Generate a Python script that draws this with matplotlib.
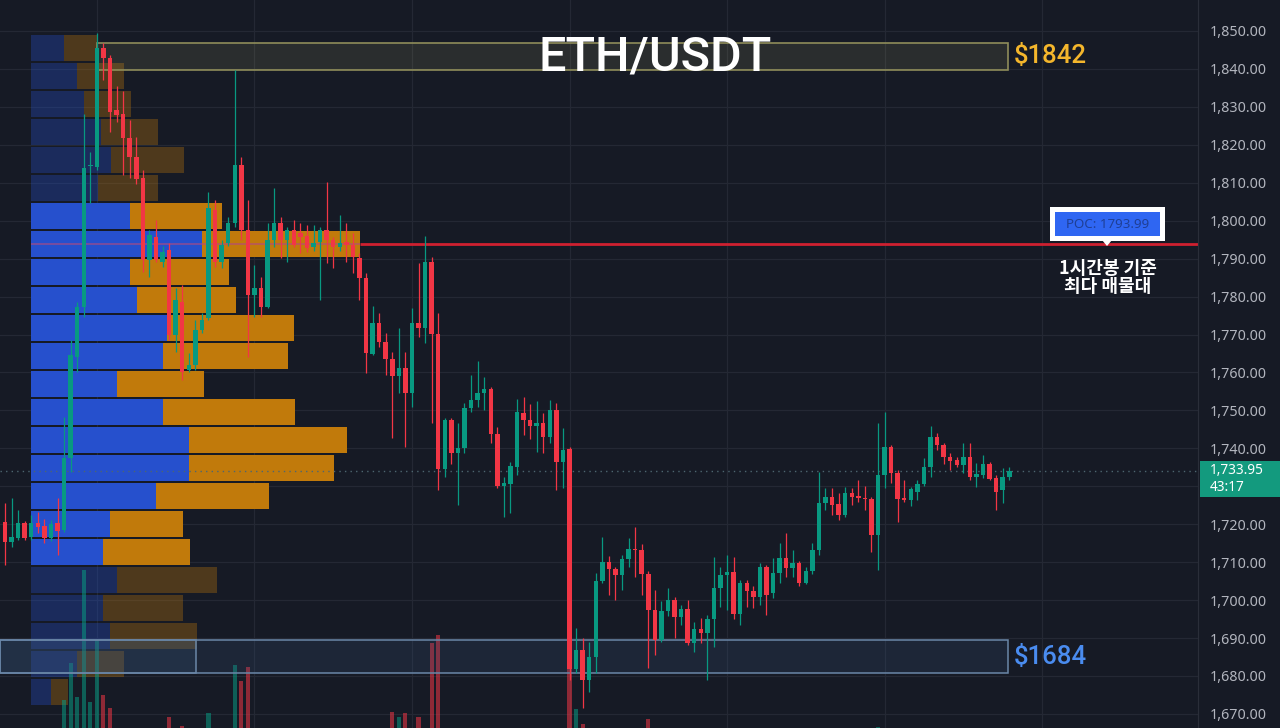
import numpy as np
import matplotlib
matplotlib.use("Agg")
import matplotlib.pyplot as plt
from matplotlib.patches import Rectangle, Polygon

plt.rcParams['font.family'] = ['Noto Sans CJK KR', 'DejaVu Sans']

# ---------------- data (1h ETH/USDT candles) ----------------
opens = [
 1720.7, 1715.4, 1716.3, 1720.2, 1716.7, 1720.4, 1719.5, 1716.3, 1720.2, 1718.5,
 1737.4, 1764.2, 1777.3, 1814.4, 1814.2, 1845.4, 1842.8, 1829.2, 1828.1, 1821.7,
 1816.9, 1811.3, 1789.6, 1795.8, 1789.2, 1792.3, 1769.9, 1778.6, 1760.6, 1762.0,
 1771.2, 1774.3, 1802.8, 1789.2, 1794.0, 1799.3, 1814.7, 1797.5, 1780.4, 1782.2,
 1777.3, 1794.9, 1799.3, 1794.9, 1797.5, 1796.7, 1796.0, 1793.1, 1794.5, 1797.5,
 1794.9, 1793.1, 1794.5, 1793.6, 1790.1, 1784.8, 1764.9, 1773.0, 1768.1, 1763.6,
 1759.1, 1761.1, 1754.7, 1773.1, 1771.8, 1789.2, 1770.1, 1734.5, 1747.5, 1738.7,
 1740.0, 1750.6, 1752.7, 1754.7, 1755.6, 1743.9, 1730.2, 1730.6, 1735.2, 1749.4,
 1747.5, 1745.9, 1746.6, 1743.1, 1750.1, 1736.5, 1739.7, 1681.8, 1686.9, 1678.9,
 1685.1, 1705.0, 1710.1, 1708.1, 1706.6, 1710.8, 1713.6, 1713.2, 1706.9, 1697.3,
 1689.4, 1697.2, 1700.0, 1695.6, 1697.6, 1688.6, 1692.3, 1691.3, 1695.0, 1703.1,
 1706.6, 1707.5, 1696.3, 1704.6, 1702.5, 1700.9, 1708.8, 1701.8, 1707.2, 1711.0,
 1708.4, 1709.7, 1704.4, 1707.7, 1713.2, 1725.7, 1727.3, 1725.3, 1722.4, 1728.1,
 1727.4, 1727.0, 1726.6, 1717.1, 1733.0, 1740.4, 1733.6, 1726.8, 1726.4, 1728.6,
 1730.6, 1735.0, 1743.1, 1740.9, 1737.6, 1736.9, 1735.6, 1737.6, 1732.5, 1733.0,
 1735.9, 1732.1, 1728.9, 1732.5]
highs = [
 1725.5, 1726.9, 1723.7, 1720.8, 1722.4, 1723.3, 1721.3, 1721.0, 1726.8, 1748.3,
 1768.6, 1778.6, 1828.1, 1818.2, 1849.6, 1846.9, 1843.7, 1835.5, 1834.3, 1826.5,
 1822.1, 1813.4, 1797.5, 1800.2, 1793.3, 1794.1, 1782.3, 1783.1, 1765.1, 1773.8,
 1775.6, 1807.6, 1805.5, 1794.9, 1801.0, 1839.7, 1816.9, 1805.5, 1788.3, 1785.2,
 1799.3, 1808.5, 1801.1, 1798.4, 1800.2, 1799.4, 1798.9, 1798.9, 1798.4, 1810.3,
 1795.8, 1801.5, 1799.3, 1796.7, 1791.4, 1786.1, 1777.5, 1775.7, 1770.5, 1765.5,
 1771.6, 1765.5, 1776.9, 1788.8, 1796.0, 1790.5, 1775.6, 1748.0, 1748.0, 1746.6,
 1752.0, 1759.3, 1762.9, 1758.9, 1756.2, 1745.7, 1732.5, 1736.5, 1752.9, 1753.6,
 1751.6, 1752.6, 1749.2, 1752.7, 1752.0, 1745.3, 1740.4, 1692.6, 1689.9, 1689.0,
 1707.1, 1716.7, 1711.6, 1708.8, 1711.9, 1716.3, 1719.3, 1714.8, 1707.8, 1702.7,
 1699.8, 1703.2, 1700.9, 1698.7, 1700.0, 1694.3, 1695.2, 1696.1, 1711.4, 1708.8,
 1711.9, 1711.4, 1705.3, 1705.3, 1703.6, 1709.7, 1709.3, 1711.0, 1715.0, 1717.6,
 1713.2, 1710.2, 1708.8, 1715.0, 1733.8, 1729.5, 1729.5, 1728.1, 1729.9, 1729.5,
 1731.7, 1730.1, 1727.3, 1746.6, 1749.7, 1740.9, 1734.3, 1731.7, 1729.9, 1731.7,
 1737.4, 1745.9, 1744.0, 1741.3, 1738.7, 1737.8, 1741.3, 1741.3, 1736.1, 1738.2,
 1736.5, 1733.0, 1734.7, 1735.2]
lows = [
 1709.3, 1714.0, 1715.8, 1715.8, 1715.8, 1717.6, 1715.0, 1715.5, 1711.9, 1718.0,
 1733.8, 1760.2, 1774.6, 1804.6, 1813.4, 1837.1, 1823.5, 1826.1, 1812.0, 1811.2,
 1809.6, 1786.6, 1785.2, 1789.1, 1787.9, 1768.6, 1765.5, 1758.0, 1760.1, 1760.6,
 1770.3, 1773.8, 1787.9, 1787.5, 1793.4, 1798.4, 1794.9, 1764.2, 1774.7, 1774.7,
 1776.9, 1793.1, 1790.1, 1789.2, 1793.1, 1791.4, 1791.8, 1792.0, 1779.1, 1788.8,
 1787.5, 1792.0, 1789.2, 1786.1, 1779.1, 1759.8, 1764.6, 1766.8, 1759.3, 1742.6,
 1754.5, 1740.4, 1751.0, 1769.4, 1767.7, 1746.6, 1729.0, 1732.5, 1736.0, 1725.1,
 1738.7, 1749.7, 1751.0, 1750.1, 1741.3, 1729.5, 1722.0, 1722.9, 1733.0, 1743.5,
 1742.4, 1739.1, 1738.7, 1741.5, 1729.0, 1729.5, 1679.0, 1680.7, 1671.5, 1675.9,
 1680.7, 1704.4, 1701.4, 1700.0, 1702.7, 1708.7, 1706.2, 1701.4, 1682.0, 1685.5,
 1689.0, 1695.8, 1689.9, 1693.4, 1688.2, 1686.4, 1688.6, 1678.9, 1687.7, 1698.3,
 1697.4, 1694.9, 1693.4, 1698.3, 1697.8, 1698.7, 1696.1, 1700.5, 1704.4, 1706.2,
 1706.2, 1703.8, 1704.2, 1706.9, 1711.9, 1723.7, 1722.4, 1721.1, 1722.0, 1725.1,
 1725.9, 1723.7, 1712.8, 1707.9, 1729.5, 1730.8, 1720.7, 1725.9, 1724.8, 1726.4,
 1730.1, 1732.5, 1739.5, 1736.0, 1734.3, 1735.2, 1733.4, 1731.7, 1729.7, 1732.1,
 1731.7, 1723.7, 1725.7, 1731.7]
closes = [
 1715.4, 1716.7, 1720.4, 1716.3, 1720.4, 1719.2, 1716.3, 1720.0, 1718.3, 1737.4,
 1764.6, 1777.3, 1813.8, 1814.6, 1845.4, 1842.8, 1828.7, 1827.9, 1821.7, 1816.7,
 1811.0, 1789.6, 1796.2, 1789.6, 1791.8, 1769.9, 1779.1, 1760.2, 1762.0, 1771.2,
 1773.8, 1803.3, 1789.2, 1793.6, 1799.3, 1814.7, 1797.5, 1780.4, 1782.2, 1777.3,
 1794.9, 1799.3, 1794.9, 1797.5, 1793.6, 1795.7, 1792.8, 1794.0, 1797.5, 1794.9,
 1793.1, 1794.0, 1793.6, 1790.5, 1784.8, 1765.0, 1773.0, 1768.1, 1763.6, 1759.1,
 1761.1, 1754.7, 1773.1, 1771.6, 1789.2, 1770.1, 1734.5, 1747.5, 1738.7, 1740.0,
 1750.6, 1752.7, 1754.7, 1755.6, 1743.9, 1730.2, 1730.8, 1735.3, 1749.7, 1747.5,
 1745.9, 1746.6, 1743.1, 1750.1, 1736.5, 1739.6, 1681.8, 1686.9, 1678.9, 1685.1,
 1705.0, 1710.1, 1708.1, 1706.6, 1710.8, 1713.6, 1713.2, 1706.9, 1697.3, 1689.4,
 1697.2, 1700.0, 1695.6, 1697.6, 1688.6, 1692.3, 1691.3, 1695.0, 1703.1, 1706.6,
 1707.5, 1696.3, 1704.6, 1702.5, 1700.7, 1708.8, 1701.3, 1707.2, 1711.0, 1708.4,
 1709.7, 1704.4, 1707.7, 1713.2, 1725.7, 1727.3, 1725.1, 1722.4, 1728.1, 1727.3,
 1726.8, 1726.6, 1717.1, 1733.0, 1740.4, 1733.6, 1726.6, 1726.4, 1729.2, 1730.6,
 1735.0, 1743.1, 1740.9, 1737.6, 1736.7, 1735.6, 1737.6, 1732.5, 1733.2, 1735.9,
 1731.8, 1728.6, 1732.5, 1733.95]
volumes = [
 6.5, 5.2, 4.8, 4.1, 4.6, 3.9, 4.4, 4.2, 7.8, 12.8,
 16.5, 13.1, 25.8, 12.6, 18.8, 13.3, 12.0, 8.1, 8.9, 7.6,
 9.2, 9.7, 7.3, 6.8, 5.1, 11.1, 8.4, 10.2, 5.5, 6.9,
 4.7, 11.5, 9.6, 5.8, 6.1, 16.3, 14.7, 16.1, 7.2, 6.0,
 8.8, 7.9, 5.4, 4.9, 5.0, 3.8, 4.3, 3.6, 6.2, 7.4,
 4.0, 4.5, 3.9, 5.6, 6.7, 9.4, 7.0, 5.3, 6.1, 11.6,
 11.1, 11.5, 9.8, 11.1, 9.9, 18.5, 19.3, 8.3, 7.1, 6.6,
 6.9, 5.2, 5.5, 4.6, 7.7, 8.6, 6.0, 5.9, 8.2, 5.1,
 4.8, 4.7, 5.0, 6.3, 8.7, 6.4, 16.5, 11.9, 10.4, 8.8,
 9.6, 7.5, 5.6, 4.9, 5.3, 5.0, 5.7, 6.2, 10.9, 8.0,
 7.1, 5.4, 5.9, 4.2, 6.6, 4.9, 4.0, 6.8, 8.5, 5.6,
 5.2, 7.3, 6.0, 4.1, 3.7, 6.4, 6.5, 5.3, 5.0, 5.8,
 3.9, 4.6, 3.8, 5.1, 9.5, 4.4, 3.6, 4.0, 4.7, 3.3,
 3.4, 3.5, 7.9, 10.1, 9.2, 6.3, 6.1, 3.2, 3.9, 3.7,
 4.5, 6.9, 3.8, 4.2, 3.1, 2.9, 3.6, 4.8, 3.0, 3.5,
 3.9, 4.6, 3.8, 1.9]

# volume profile rows, listed from the top price row down
profile_buy = [33, 46, 53, 70, 80, 67, 99, 171, 99, 106, 136, 132, 86, 132,
               158, 158, 125, 79, 72, 86, 72, 79, 46, 20]
profile_sell = [33, 47, 47, 57, 73, 60, 92, 158, 99, 99, 127, 125, 87, 132,
                158, 145, 113, 73, 87, 100, 80, 87, 47, 17]
profile_top = 1849.2
profile_step = 7.38
value_area_rows = (6, 18)
poc_price = 1793.99
poc_row = 7

resistance_zone = (1839.7, 1846.8)
support_zone = (1680.8, 1689.5)
resistance_label = "$1842"
support_label = "$1684"
last_price = 1733.95
countdown = "43:17"
title = "ETH/USDT"
note_lines = ["1시간봉 기준", "최다 매물대"]
price_ticks = list(range(1670, 1851, 10))
day_grid = [14, 38, 62, 86, 110, 134, 158]

# ---------------- style ----------------
BG = '#161a25'
GRID = '#242834'
UP = '#089981'
DN = '#f23645'
W_PX, H_PX = 1280, 728
AX_W = 1198
X0_PX, STEP_PX = 5.0, 6.564
P_TOP, P_BOT = 1858.17, 1666.29
LATIN = ['Noto Sans', 'DejaVu Sans']
HEAVY = ['Roboto', 'Noto Sans', 'DejaVu Sans']
CJK = ['Noto Sans CJK KR', 'DejaVu Sans']

def cx(px):  # reference pixel x -> candle index
    return (px - X0_PX) / STEP_PX

def py(p_y):  # reference pixel y -> price
    return P_TOP - p_y * (P_TOP - P_BOT) / H_PX

fig = plt.figure(figsize=(12.8, 7.28), dpi=100)
fig.patch.set_facecolor(BG)
pos = [0, 0, AX_W / W_PX, 1]

ax_bg = fig.add_axes(pos, zorder=0)
ax_prof = fig.add_axes(pos, zorder=1)
ax_vol = fig.add_axes(pos, zorder=2)
ax = fig.add_axes(pos, zorder=3)

xlim = (cx(0), cx(AX_W))
for a in (ax_bg, ax_vol, ax):
    a.set_xlim(*xlim)
for a in (ax_bg, ax_prof, ax):
    a.set_ylim(P_BOT, P_TOP)
ax_prof.set_xlim(-30.5, AX_W - 30.5)
ax_vol.set_ylim(10, 10 + 72.8)

ax_bg.set_facecolor(BG)
for a in (ax_prof, ax_vol, ax):
    a.patch.set_visible(False)
for a in (ax_bg, ax_prof, ax_vol, ax):
    for s in a.spines.values():
        s.set_visible(False)
    a.tick_params(length=0)
    a.set_xticks([])
for a in (ax_bg, ax_prof, ax_vol):
    a.set_yticks([])

# grid
for p in price_ticks:
    ax_bg.axhline(p, color=GRID, lw=0.9, zorder=0)
for g in day_grid:
    ax_bg.axvline(g, color=GRID, lw=0.9, zorder=0)

# ---------------- volume profile ----------------
centers = profile_top - (np.arange(len(profile_buy)) + 0.5) * profile_step
for i, (b, s) in enumerate(zip(profile_buy, profile_sell)):
    inside = value_area_rows[0] <= i <= value_area_rows[1]
    alpha = 1.0 if inside else 0.33
    ax_prof.barh(centers[i], b, height=profile_step * 0.9, left=0,
                 color='#2650cd', alpha=alpha, lw=0, zorder=2)
    ax_prof.barh(centers[i], s, height=profile_step * 0.9, left=b,
                 color='#c17a0b', alpha=alpha, lw=0, zorder=2)
poc_end = profile_buy[poc_row] + profile_sell[poc_row]
ax_prof.hlines(poc_price, 0, poc_end, color='#b04a80', lw=1.2, alpha=0.7, zorder=3)
ax_prof.hlines(poc_price, poc_end, AX_W, color='#cf2030', lw=2.0, zorder=3)

# ---------------- volume bars ----------------
idx = np.arange(len(opens))
o = np.array(opens); c = np.array(closes)
h = np.array(highs); l = np.array(lows)
up = c >= o
vcol = [UP if u else DN for u in up]
ax_vol.bar(idx, volumes, width=0.62, color=vcol, alpha=0.55, lw=0)

# ---------------- zones ----------------
zone_end = cx(1008)
ax.add_patch(Rectangle((14, resistance_zone[0]), zone_end - 14,
                       resistance_zone[1] - resistance_zone[0],
                       facecolor='#b8b46c', alpha=0.13, lw=0, zorder=1))
ax.add_patch(Rectangle((14, resistance_zone[0]), zone_end - 14,
                       resistance_zone[1] - resistance_zone[0],
                       facecolor='none', edgecolor='#8f8d5a', lw=1.2, zorder=1))
for x_end in (zone_end, cx(196)):
    ax.add_patch(Rectangle((xlim[0], support_zone[0]), x_end - xlim[0],
                           support_zone[1] - support_zone[0],
                           facecolor='#3d5f8a', alpha=0.18, lw=0, zorder=1))
    ax.add_patch(Rectangle((xlim[0], support_zone[0]), x_end - xlim[0],
                           support_zone[1] - support_zone[0],
                           facecolor='none', edgecolor='#6a87a8', lw=1.1, zorder=1))

# ---------------- candles ----------------
ccol = np.where(up, UP, DN)
ax.vlines(idx, l, h, colors=ccol, lw=0.9, zorder=3)
body_lo = np.minimum(o, c)
body_h = np.maximum(np.abs(c - o), 0.35)
ax.bar(idx, body_h, bottom=body_lo, width=0.68, color=ccol, lw=0, zorder=4)

# last price line
ax.axhline(last_price, color='#4d6670', lw=1.0, ls=(0, (1, 3)), zorder=2)

# ---------------- right price axis ----------------
# the tick label nearest the last-price tag is covered by the tag, as on the chart
ax.yaxis.tick_right()
ax.set_yticks(price_ticks)
ax.set_yticklabels(["" if abs(p - last_price) < 5 else f"{p:,.2f}" for p in price_ticks])
ax.tick_params(axis='y', colors='#b2b5be', labelsize=10.3, pad=8.6, length=0)
for lab in ax.get_yticklabels():
    lab.set_fontfamily(LATIN)
ax.spines['right'].set_visible(True)
ax.spines['right'].set_color('#2a2e39')

# price tag (one two-line text)
fig.patches.append(Rectangle((1200 / W_PX, 1 - 497 / H_PX), 80 / W_PX, 36 / H_PX,
                             transform=fig.transFigure, facecolor='#139a7e',
                             edgecolor='none', zorder=5))
fig.text(1210 / W_PX, 1 - 479 / H_PX, f"{last_price:,.2f}\n{countdown}", color='white',
         fontsize=9.8, va='center', ha='left', family=LATIN, linespacing=1.15, zorder=6)

# ---------------- annotations ----------------
ax.text(cx(655), py(57), title, color='white', fontsize=35, ha='center', va='center',
        family=HEAVY, fontweight='medium', zorder=6)
ax.text(cx(1014), py(56), resistance_label, color='#f4b62c', fontsize=18.5,
        ha='left', va='center', family=HEAVY, fontweight='medium', zorder=6, clip_on=False)
ax.text(cx(1014), py(657), support_label, color='#4a8cf0', fontsize=18.5,
        ha='left', va='center', family=HEAVY, fontweight='medium', zorder=6, clip_on=False)

# POC callout
ax.add_patch(Rectangle((cx(1050), py(241)), cx(1165) - cx(1050), py(207) - py(241),
                       facecolor='white', edgecolor='none', zorder=6))
ax.add_patch(Rectangle((cx(1055), py(236)), cx(1160) - cx(1055), py(212) - py(236),
                       facecolor='#2f66f2', edgecolor='none', zorder=7))
ax.add_patch(Polygon([(cx(1102), py(240)), (cx(1112), py(240)), (cx(1107), py(246))],
                     closed=True, facecolor='white', edgecolor='none', zorder=6))
ax.text(cx(1107.5), py(224.5), f"POC: {poc_price:.2f}", color='#1f3f95', fontsize=9.6,
        ha='center', va='center', family=LATIN, zorder=8)
ax.text(cx(1108), py(268), note_lines[0], color='white', fontsize=13,
        ha='center', va='center', family=CJK, fontweight='bold', zorder=8)
ax.text(cx(1108), py(287), note_lines[1], color='white', fontsize=13,
        ha='center', va='center', family=CJK, fontweight='bold', zorder=8)

fig.savefig('out.png', dpi=100, facecolor=BG)
